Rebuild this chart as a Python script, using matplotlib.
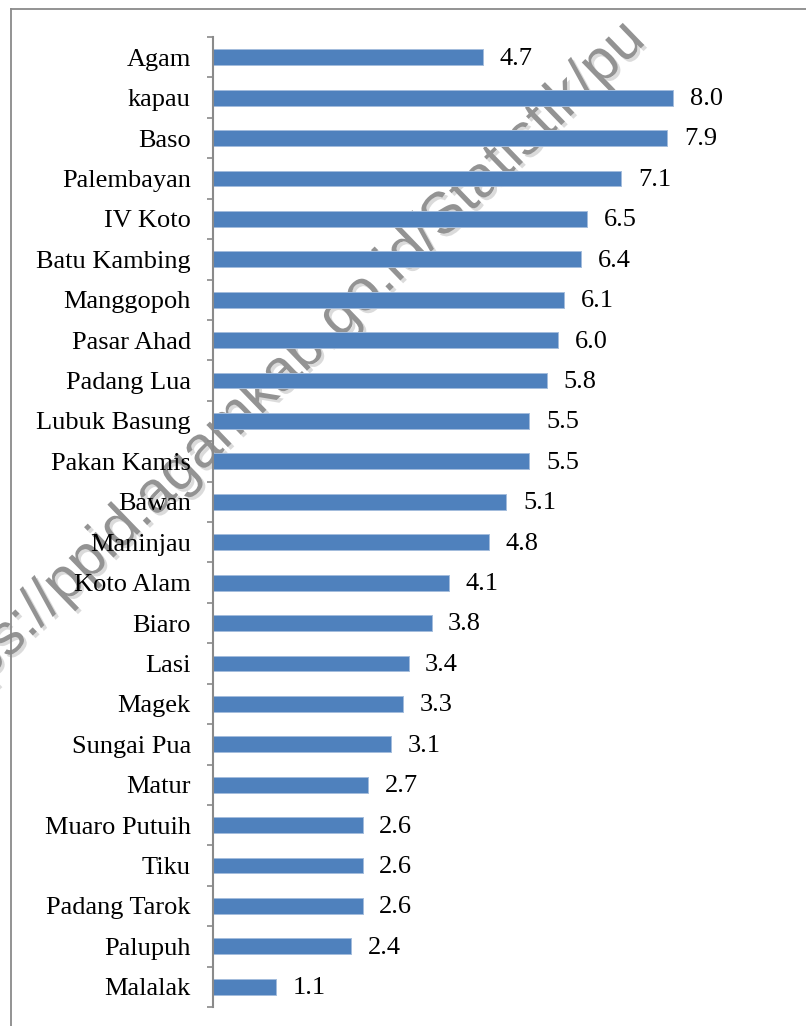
import numpy as np
import matplotlib.pyplot as plt
from matplotlib.lines import Line2D
import matplotlib.patheffects as pe

kecamatan = ['Agam', 'kapau', 'Baso', 'Palembayan', 'IV Koto', 'Batu Kambing',
             'Manggopoh', 'Pasar Ahad', 'Padang Lua', 'Lubuk Basung', 'Pakan Kamis',
             'Bawan', 'Maninjau', 'Koto Alam', 'Biaro', 'Lasi', 'Magek', 'Sungai Pua',
             'Matur', 'Muaro Putuih', 'Tiku', 'Padang Tarok', 'Palupuh', 'Malalak']
nilai = [4.7, 8.0, 7.9, 7.1, 6.5, 6.4, 6.1, 6.0, 5.8, 5.5, 5.5, 5.1, 4.8, 4.1,
         3.8, 3.4, 3.3, 3.1, 2.7, 2.6, 2.6, 2.6, 2.4, 1.1]

W, H = 806, 1026
fig = plt.figure(figsize=(W / 100, H / 100), dpi=100)

# watermark behind the chart
fig.text(-62 / W, 1 - 727 / H, 'https://ppid.agamkab.go.id/Statistik/pu',
         fontsize=42, family='Liberation Sans', color='#939393',
         rotation=44, rotation_mode='anchor', ha='left', va='baseline',
         zorder=-1,
         path_effects=[pe.SimplePatchShadow(offset=(2, -2), shadow_rgbFace='#c4c4c4', alpha=0.6),
                       pe.Normal()])

# outer border
gray = '#8a8a8a'
fig.add_artist(Line2D([11 / W, 1], [1 - 9 / H, 1 - 9 / H], color=gray, lw=1.3))
fig.add_artist(Line2D([11 / W, 11 / W], [0, 1 - 9 / H], color=gray, lw=1.3))

ax = fig.add_axes([213 / W, 1 - 1007 / H, 517.5 / W, 970 / H])
ax.patch.set_alpha(0)

y = np.arange(len(kecamatan))
ax.barh(y, nilai, height=0.39, color='#4f81bd', edgecolor='#a3bcdc', linewidth=0.7)

for i, v in enumerate(nilai):
    ax.annotate(f'{v:.1f}', (v, i), xytext=(12, -1), textcoords='offset points',
                va='center', ha='left', fontsize=19, family='Liberation Serif')

ax.set_xlim(0, 9)
ax.set_ylim(len(kecamatan) - 0.5, -0.5)

ax.set_yticks(np.arange(len(kecamatan) + 1) - 0.5)
ax.set_yticklabels([])
ax.set_yticks(y, minor=True)
ax.set_yticklabels(kecamatan, minor=True, fontsize=19, family='Liberation Serif')
ax.tick_params(axis='y', which='major', length=4, width=1.2, color=gray, direction='out')
ax.tick_params(axis='y', which='minor', length=0, pad=16)
ax.set_xticks([])

for s in ['top', 'right', 'bottom']:
    ax.spines[s].set_visible(False)
ax.spines['left'].set_color(gray)
ax.spines['left'].set_linewidth(1.5)

fig.savefig('out.png', dpi=100)
